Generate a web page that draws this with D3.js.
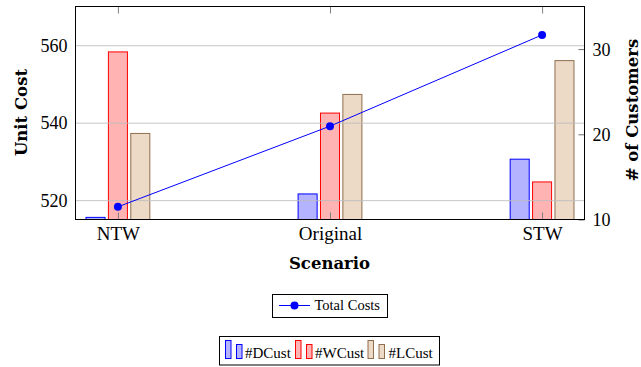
<!DOCTYPE html>
<html>
<head>
<meta charset="utf-8">
<script src="https://cdn.jsdelivr.net/npm/d3@7"></script>
<style>
  html, body { margin: 0; padding: 0; background: #fff; }
  svg { display: block; }
</style>
</head>
<body>
<svg id="chart" width="641" height="367"></svg>
<script>
// ---- data ----
const categories = ["NTW", "Original", "STW"];
const seriesNames = ["#DCust", "#WCust", "#LCust"];
const dCust = [10.25, 13.0, 17.08];
const wCust = [29.67, 22.49, 14.41];
const lCust = [20.1, 24.68, 28.65];
const totalCosts = [518.27, 539.1, 562.66];
const leftTicks = [520, 540, 560];
const rightTicks = [10, 20, 30];

const seriesValues = [dCust, wCust, lCust];
const seriesFill = ["#b3b3ff", "#ffb3b3", "#ecd9c6"];
const seriesStroke = ["#0000ff", "#ff0000", "#8f6f4f"];

const svg = d3.select("#chart");
const L = 75.5, R = 584.5, T = 6.5, B = 219.5;

const x = d3.scalePoint().domain(categories).range([L, R]).padding(0.2);
const sub = d3.scaleBand().domain(seriesNames).range([-31.9, 31.9]).paddingInner(0.15);
const yL = d3.scaleLinear().domain([515, 570]).range([B, T]);
const yR = d3.scaleLinear().domain([10, 35]).range([B, T]);

const serif = "'Liberation Serif', 'Times New Roman', serif";
const boldSerif = "'DejaVu Serif', serif";

// ---- bars ----
const barData = [];
categories.forEach((c, i) => {
  seriesNames.forEach((s, j) => barData.push({ c, s, j, v: seriesValues[j][i] }));
});
svg.append("g").selectAll("rect").data(barData).enter().append("rect")
  .attr("x", d => x(d.c) + sub(d.s))
  .attr("width", sub.bandwidth())
  .attr("y", d => yR(d.v))
  .attr("height", d => B - yR(d.v))
  .attr("fill", d => seriesFill[d.j])
  .attr("stroke", d => seriesStroke[d.j])
  .attr("stroke-width", 1);

// ---- grid (left axis) ----
const grid = svg.append("g").attr("transform", `translate(${L},0)`)
  .call(d3.axisLeft(yL).tickValues(leftTicks).tickSize(-(R - L)).tickFormat(""));
grid.select(".domain").remove();
grid.selectAll("line").attr("stroke", "#bdbdbd").attr("stroke-opacity", 0.85);

// ---- left axis labels ----
const ax = svg.append("g").attr("transform", `translate(${L},0)`)
  .call(d3.axisLeft(yL).tickValues(leftTicks).tickSize(0).tickPadding(8));
ax.select(".domain").remove();
ax.selectAll("text").attr("font-family", serif).attr("font-size", 18).attr("fill", "#000")
  .attr("dy", "0.34em");

// ---- right axis ----
const ar = svg.append("g").attr("transform", `translate(${R},0)`)
  .call(d3.axisRight(yR).tickValues(rightTicks).tickSizeInner(-6).tickSizeOuter(0).tickPadding(8));
ar.select(".domain").remove();
ar.selectAll("line").attr("stroke", "#6e6e6e");
ar.selectAll("text").attr("font-family", serif).attr("font-size", 18).attr("fill", "#000")
  .attr("x", 8).attr("dy", "0.34em");

// ---- bottom axis ----
const ab = svg.append("g").attr("transform", `translate(0,${B})`)
  .call(d3.axisBottom(x).tickSize(-7).tickSizeOuter(0));
ab.select(".domain").remove();
ab.selectAll("line").attr("stroke", "#808080");
ab.selectAll("text").attr("font-family", serif).attr("font-size", 19).attr("fill", "#000")
  .attr("dy", null).attr("y", 20.5);

// ---- top ticks ----
const at = svg.append("g").attr("transform", `translate(0,${T})`)
  .call(d3.axisTop(x).tickSize(-7).tickSizeOuter(0).tickFormat(""));
at.select(".domain").remove();
at.selectAll("line").attr("stroke", "#808080");

// ---- line ----
const line = d3.line().x((d, i) => x(categories[i])).y(d => yL(d));
svg.append("path").datum(totalCosts).attr("d", line)
  .attr("fill", "none").attr("stroke", "#0000ff").attr("stroke-width", 1);
svg.append("g").selectAll("circle").data(totalCosts).enter().append("circle")
  .attr("cx", (d, i) => x(categories[i])).attr("cy", d => yL(d)).attr("r", 4)
  .attr("fill", "#0000ff");

// ---- frame ----
svg.append("rect").attr("x", L).attr("y", T).attr("width", R - L).attr("height", B - T)
  .attr("fill", "none").attr("stroke", "#000").attr("stroke-width", 1);

// ---- axis titles ----
svg.append("text").attr("transform", "translate(27,112.5) rotate(-90)")
  .attr("text-anchor", "middle").attr("font-family", boldSerif).attr("font-weight", "bold")
  .attr("font-size", 16.5).text("Unit Cost");
svg.append("text").attr("x", 329.5).attr("y", 269)
  .attr("text-anchor", "middle").attr("font-family", boldSerif).attr("font-weight", "bold")
  .attr("font-size", 16.5).text("Scenario");
svg.append("text").attr("transform", "translate(638,110) rotate(-90)")
  .attr("text-anchor", "middle").attr("font-family", boldSerif).attr("font-weight", "bold")
  .attr("font-size", 16.5).text("# of Customers");

// ---- legend 1 ----
const lg1 = svg.append("g");
lg1.append("rect").attr("x", 272.5).attr("y", 294.5).attr("width", 115).attr("height", 23)
  .attr("fill", "#fff").attr("stroke", "#000");
lg1.append("line").attr("x1", 279).attr("x2", 310).attr("y1", 305.5).attr("y2", 305.5)
  .attr("stroke", "#0000ff");
lg1.append("circle").attr("cx", 294.5).attr("cy", 305.5).attr("r", 4).attr("fill", "#0000ff");
lg1.append("text").attr("x", 314.5).attr("y", 310).attr("font-family", serif)
  .attr("font-size", 14.5).text("Total Costs");

// ---- legend 2 ----
const lg2 = svg.append("g");
lg2.append("rect").attr("x", 219.5).attr("y", 336.5).attr("width", 220).attr("height", 28.5)
  .attr("fill", "#fff").attr("stroke", "#000");
const legItems = [
  { x: 225.5, tx: 245 },
  { x: 295.5, tx: 315 },
  { x: 368, tx: 388.5 }
];
legItems.forEach((it, j) => {
  lg2.append("rect").attr("x", it.x).attr("y", 340.5).attr("width", 5.5).attr("height", 18)
    .attr("fill", seriesFill[j]).attr("stroke", seriesStroke[j]);
  lg2.append("rect").attr("x", it.x + 11).attr("y", 344.5).attr("width", 5.5).attr("height", 14)
    .attr("fill", seriesFill[j]).attr("stroke", seriesStroke[j]);
  lg2.append("text").attr("x", it.tx).attr("y", 358).attr("font-family", serif)
    .attr("font-size", 15).text(seriesNames[j]);
});
</script>
</body>
</html>
